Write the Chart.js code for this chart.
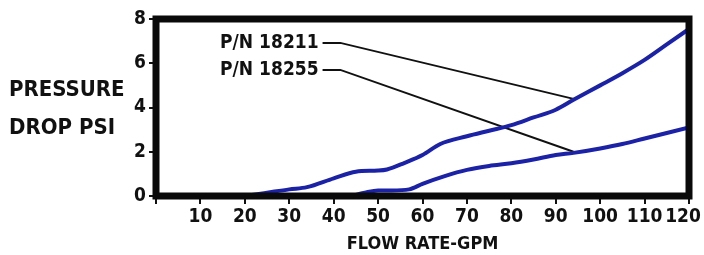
<!DOCTYPE html>
<html lang="en">
<head>
  <meta charset="UTF-8">
  <title>Pressure Drop vs Flow Rate</title>
  <style>
    * { margin: 0; padding: 0; box-sizing: border-box; }
    body { background: #fff; width: 704px; height: 255px; overflow: hidden; }
    .wrap { position: relative; width: 704px; height: 255px; }
  </style>
</head>
<body>
<div class="wrap">
  <canvas id="flowChart" width="704" height="255"></canvas>
</div>

<script src="https://cdn.jsdelivr.net/npm/chart.js"></script>
<script>
  // curve P/N 18211
  const flow18211 = [20, 25, 30, 34, 40, 45, 50, 52, 56, 60, 64, 70, 75, 80, 85, 90, 94, 100, 105, 110, 115, 120];
  const psi18211  = [0, 0.15, 0.3, 0.4, 0.8, 1.1, 1.15, 1.2, 1.5, 1.85, 2.35, 2.7, 2.95, 3.2, 3.55, 3.9, 4.35, 5.0, 5.55, 6.15, 6.85, 7.55];

  // curve P/N 18255
  const flow18255 = [44, 47, 50, 53, 57, 60, 65, 70, 75, 80, 85, 90, 94, 100, 105, 110, 115, 120];
  const psi18255  = [0, 0.15, 0.25, 0.25, 0.3, 0.55, 0.9, 1.18, 1.36, 1.48, 1.65, 1.85, 1.95, 2.15, 2.35, 2.6, 2.85, 3.1];

  // callout leader lines (label end -> point on curve)
  const leaderFlow = [37.5, 41.5, 94];
  const leader18211 = [6.92, 6.92, 4.39];
  const leader18255 = [5.7, 5.7, 2.0];

  const seriesNames = ['P/N 18211', 'P/N 18255'];
  const yTicks = [0, 2, 4, 6, 8];
  const xTicks = [0, 10, 20, 30, 40, 50, 60, 70, 80, 90, 100, 110, 120];

  const FONT = '"Liberation Sans Narrow", "DejaVu Sans Condensed", Arial, sans-serif';
  const BLUE = '#1b22a6';

  const pts = (xs, ys) => xs.map((x, i) => ({ x: x, y: ys[i] }));

  // frame + callout text + y title
  const decor = {
    id: 'decor',
    afterDraw(chart) {
      const { ctx, chartArea: a, scales } = chart;
      ctx.save();
      ctx.strokeStyle = '#0a0a0a';
      ctx.lineWidth = 7;
      ctx.strokeRect(a.left, a.top, a.right - a.left, a.bottom - a.top);

      ctx.fillStyle = '#111';
      ctx.font = 'bold 19px ' + FONT;
      ctx.textAlign = 'right';
      ctx.textBaseline = 'middle';
      const lx = scales.x.getPixelForValue(leaderFlow[0]) - 4;
      ctx.fillText(seriesNames[0], lx, scales.y.getPixelForValue(leader18211[0]));
      ctx.fillText(seriesNames[1], lx, scales.y.getPixelForValue(leader18255[0]));

      ctx.textAlign = 'left';
      ctx.font = 'bold 22px ' + FONT;
      ctx.fillText('PRESSURE', 9, 90);
      ctx.fillText('DROP PSI', 9, 128);
      ctx.restore();
    }
  };

  new Chart(document.getElementById('flowChart'), {
    type: 'line',
    data: {
      datasets: [
        {
          label: seriesNames[0],
          data: pts(flow18211, psi18211),
          borderColor: BLUE,
          borderWidth: 4,
          pointRadius: 0,
          cubicInterpolationMode: 'monotone'
        },
        {
          label: seriesNames[1],
          data: pts(flow18255, psi18255),
          borderColor: BLUE,
          borderWidth: 4,
          pointRadius: 0,
          cubicInterpolationMode: 'monotone'
        },
        {
          data: pts(leaderFlow, leader18211),
          borderColor: '#111',
          borderWidth: 2,
          pointRadius: 0,
          tension: 0
        },
        {
          data: pts(leaderFlow, leader18255),
          borderColor: '#111',
          borderWidth: 2,
          pointRadius: 0,
          tension: 0
        }
      ]
    },
    options: {
      responsive: false,
      animation: false,
      layout: { padding: { top: 19, right: 15, left: 0, bottom: 0 } },
      plugins: { legend: { display: false }, tooltip: { enabled: false } },
      scales: {
        x: {
          type: 'linear',
          min: 0,
          max: 120,
          afterBuildTicks: s => { s.ticks = xTicks.map(v => ({ value: v })); },
          afterFit: s => { s.height = 59; s.paddingRight = 0; s.paddingLeft = 0; },
          grid: { drawOnChartArea: false, drawTicks: true, tickLength: 8, color: '#111', lineWidth: 2 },
          border: { display: false },
          ticks: {
            color: '#111',
            padding: 2,
            maxRotation: 0,
            autoSkip: false,
            font: { family: FONT, size: 19, weight: 'bold' },
            callback: v => (v === 0 ? '' : v === 120 ? '120  ' : v)
          },
          title: {
            display: true,
            text: 'FLOW RATE-GPM',
            color: '#111',
            padding: { top: 2, bottom: 0 },
            font: { family: FONT, size: 18, weight: 'bold' }
          }
        },
        y: {
          min: 0,
          max: 8,
          afterBuildTicks: s => { s.ticks = yTicks.map(v => ({ value: v })); },
          afterFit: s => { s.width = 156; },
          grid: { drawOnChartArea: false, drawTicks: true, tickLength: 7, color: '#111', lineWidth: 2 },
          border: { display: false },
          ticks: {
            color: '#111',
            padding: 3,
            font: { family: FONT, size: 19, weight: 'bold' }
          }
        }
      }
    },
    plugins: [decor]
  });
</script>
</body>
</html>
